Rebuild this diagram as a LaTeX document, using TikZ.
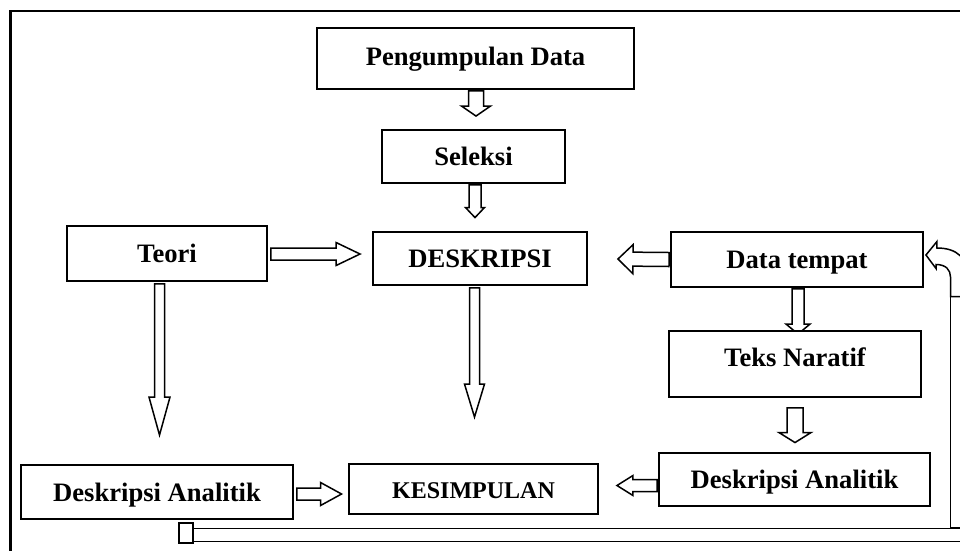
\documentclass[tikz,border=0pt]{standalone}
\usepackage{fontspec}
\setmainfont{Liberation Serif}
\usetikzlibrary{calc}
% block arrow: #1 start, #2 tip, #3 shaft half width, #4 head half width, #5 head length
\newcommand\blockarr[5]{%
  \coordinate (baA) at #1;
  \coordinate (baB) at #2;
  \coordinate (baC) at ($(baB)!#5pt!(baA)$);
  \draw[arrline] ($(baA)!#3pt!90:(baB)$) -- ($(baC)!#3pt!90:(baB)$) -- ($(baC)!#4pt!90:(baB)$)
    -- (baB) -- ($(baC)!#4pt!-90:(baB)$) -- ($(baC)!#3pt!-90:(baB)$) -- ($(baA)!#3pt!-90:(baB)$) -- cycle;
}
\begin{document}
\begin{tikzpicture}[x=1pt,y=-1pt,
  box/.style={draw=black, line width=1.9pt, fill=white, inner sep=0pt,
    font=\fontsize{26.6}{30}\selectfont\bfseries, text height=20pt, text depth=2pt},
  arrline/.style={draw=black, fill=white, line width=1.5pt},
  framel/.style={draw=black, line width=2.3pt}]
\useasboundingbox (0,0) rectangle (960,550);
\clip (0,0) rectangle (960,550);
\fill[white] (0,0) rectangle (960,550);
\draw[framel] (10.5,11) rectangle (990,570);

\node[box, minimum width=317pt, minimum height=61pt, text depth=7pt] (pd) at (475.5,58.5) {Pengumpulan Data};
\node[box, minimum width=183pt, minimum height=53pt] (sel) at (473.5,156.5) {Seleksi};
\node[box, minimum width=214pt, minimum height=53pt] (desk) at (480,258.5) {DESKRIPSI};
\node[box, minimum width=200pt, minimum height=55pt] (teori) at (167,253.5) {Teori};
\node[box, minimum width=252pt, minimum height=55pt] (dt) at (797,259.5) {Data tempat};
\node[box, minimum width=252pt, minimum height=66pt, text depth=14.6pt] (tn) at (795,364) {Teks Naratif};
\node[box, minimum width=271pt, minimum height=53pt] (dar) at (794.5,479.5) {Deskripsi Analitik};
\node[box, minimum width=249pt, minimum height=50pt, font=\fontsize{24}{28}\selectfont\bfseries] (kes) at (473.5,489) {KESIMPULAN};
\node[box, minimum width=272pt, minimum height=54pt] (dal) at (157,492) {Deskripsi Analitik};

\blockarr{($(pd.south)+(0.5,1)$)}{($(pd.south |- sel.north)+(0.5,-13)$)}{7.5}{14.5}{10}
\blockarr{($(sel.south)+(1.5,1)$)}{($(sel.south |- desk.north)+(1.5,-13.5)$)}{6}{9.5}{10}
\blockarr{($(teori.east)+(3,0.5)$)}{($(teori.east -| desk.west)+(-12,0.5)$)}{6}{11.5}{24}
\blockarr{($(teori.south)+(-7.5,2)$)}{($(dal.north)+(2.5,-29)$)}{5}{10.5}{38}
\blockarr{($(desk.south)+(-5.5,2)$)}{($(kes.north)+(1,-46)$)}{5}{10}{33}
\blockarr{($(dt.west)+(-1,0)$)}{($(desk.east)+(30,0.5)$)}{7}{14.5}{15}
\begin{scope}
\clip (0,0) rectangle ($(tn.north east)+(0,-0.9)$);
\blockarr{($(dt.south)+(1,1)$)}{($(tn.north)+(3,4)$)}{6}{12}{10}
\end{scope}
\blockarr{($(tn.south)+(0,10)$)}{($(dar.north)+(0.5,-9.5)$)}{8}{16}{10}
\blockarr{($(dar.west)+(-1,6)$)}{($(kes.east)+(18,-3.5)$)}{6}{10}{16}
\blockarr{($(dal.east)+(3,2)$)}{($(kes.west)+(-6.5,5)$)}{6}{11.5}{21}

% feedback path
\coordinate (fbS1) at ($(dal.south)+(22,3)$);
\coordinate (fbS2) at ($(dal.south)+(36,23)$);
\coordinate (fbH1) at ($(dal.south)+(36,8.5)$);
\coordinate (fbH2) at (990,541.7);
\coordinate (fbV1) at (950.5,296.5);
\coordinate (fbV2) at (968,527.5);
\draw[arrline] (fbV1) rectangle (fbV2);
\draw[arrline] (fbH1) rectangle (fbH2);
\draw[arrline] (fbS1) rectangle (fbS2);
\coordinate (fbT) at ($(dt.east)+(2,-4.5)$);
\draw[arrline] (fbT) -- ++(11,-13.5) -- ++(0,6.5)
  .. controls ++(20,0) and (968,258) .. (968,278) -- (968,296.5) -- (950.5,296.5) -- (950.5,277)
  .. controls (950.5,270) and (946,264.5) .. (936,264.5) -- (936,268.5) -- cycle;
\end{tikzpicture}
\end{document}
